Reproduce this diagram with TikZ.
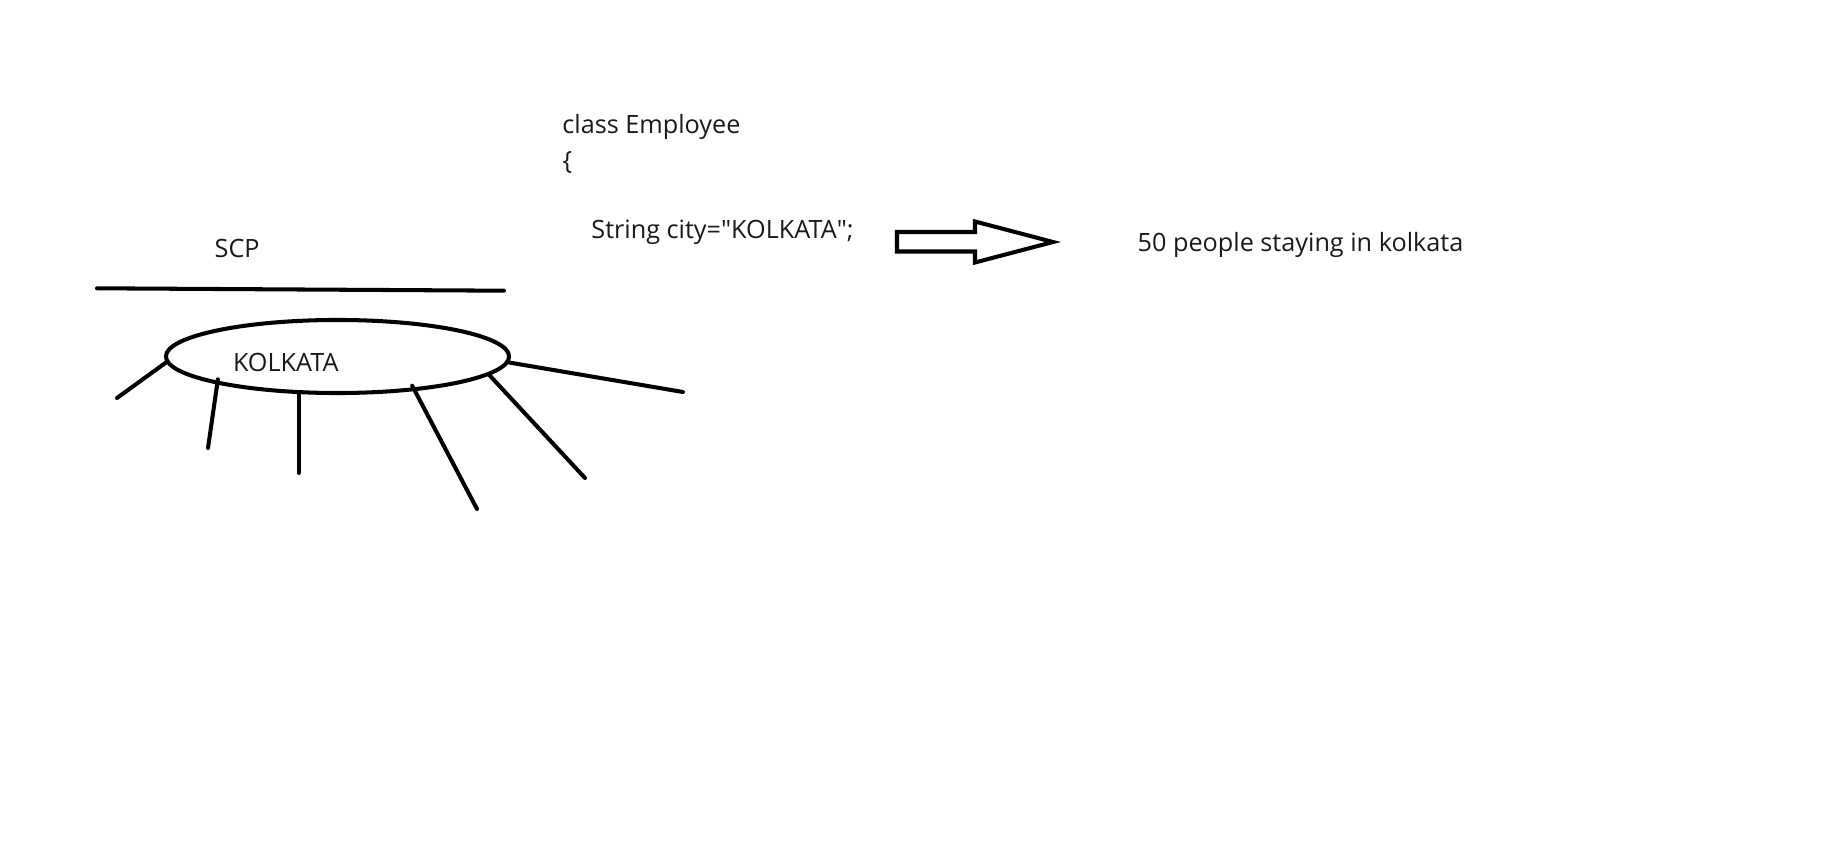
\documentclass[tikz,border=0pt]{standalone}
\usepackage{fontspec}
\setmainfont{Open Sans}
\usetikzlibrary{shapes.geometric}
\newcommand{\straightquote}{\XeTeXglyph\XeTeXcharglyph"22\relax}

\begin{document}
\begin{tikzpicture}[
        x=0.01cm, y=-0.01cm,
        tag/.style={
            anchor=base west,
            inner sep=0pt,
            font=\fontsize{7.17pt}{9pt}\selectfont,
            text=black!90
        },
        stroke/.style={draw=black, line width=1.15pt, line cap=round}
    ]
    \useasboundingbox (0,0) rectangle (1831,846);

    % left: the city and its people
    \node[tag] (scp) at (214,257.3) {SCP};
    \coordinate (barL) at (97,288.3);
    \coordinate (barR) at (504,290.7);
    \draw[stroke] (barL) -- (barR);

    \node[ellipse, stroke, minimum width=3.43cm, minimum height=0.73cm, inner sep=0pt] (city) at (337.5,356.5) {};
    \node[tag] (cityname) at (232.3,371.7) {KOLKATA};

    \coordinate (r1) at (117,398);
    \coordinate (r2) at (208,448);
    \coordinate (r3) at (301,473);
    \coordinate (r4) at (477,509);
    \coordinate (r5) at (585,478);
    \coordinate (r6) at (683,392);

    \draw[stroke] (city.182) -- (r1);
    \draw[stroke, shorten <=-0.05cm] (city.193) -- (r2);
    \draw[stroke] (city.224) -- (city.224 |- r3);
    \draw[stroke, shorten <=-0.06cm] (city.336) -- (r4);
    \draw[stroke] (city.353.6) -- (r5);
    \draw[stroke] (city.358) -- (r6);

    % right: the code and what it means
    \node[tag] (cls) at (561.7,133.3) {class Employee};
    \node[tag] (brace) at (562,169.5) {\{};
    \node[tag] (field) at (590.7,238.3) {String city=\straightquote KOLKATA\straightquote;};

    \draw[draw=black, line width=1.15pt]
        (897,232) -- (975,232) -- (975,221.5) -- (1053,242)
        -- (975,262.5) -- (975,251.5) -- (897,251.5) -- cycle;

    \node[tag] (people) at (1137,251.7) {50 people staying in kolkata};
\end{tikzpicture}
\end{document}
